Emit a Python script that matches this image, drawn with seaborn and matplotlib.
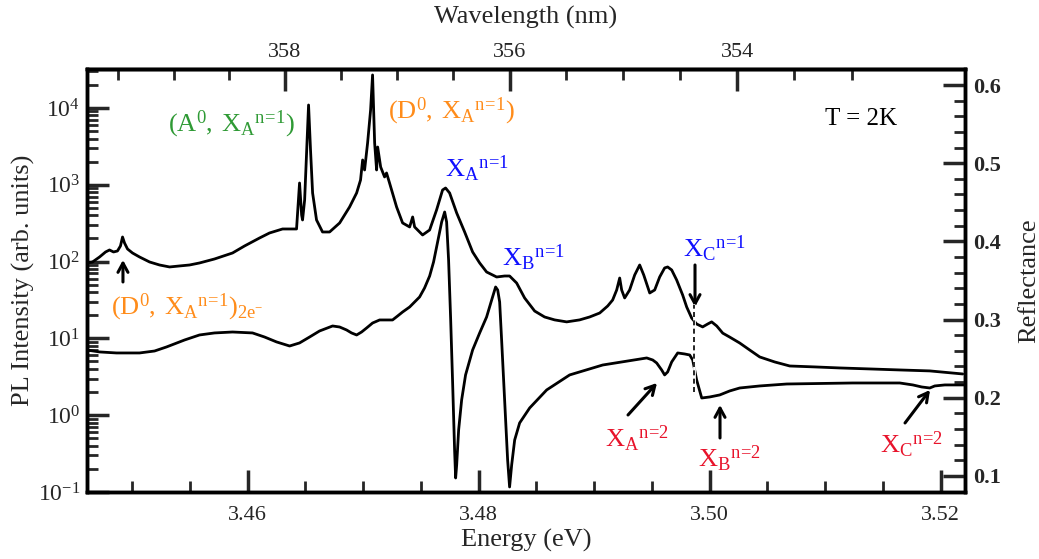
import numpy as np
import pandas as pd
import matplotlib
matplotlib.use("Agg")
import matplotlib.pyplot as plt
from matplotlib.ticker import MultipleLocator, LogLocator, NullFormatter, FixedLocator
import seaborn as sns

# ---------------- data ----------------
pl_energy = [3.44606, 3.44658, 3.44719, 3.44771, 3.44805, 3.44840, 3.44874, 3.44900, 3.44918, 3.44935,
             3.44961, 3.45004, 3.45065, 3.45152, 3.45238, 3.45325, 3.45411, 3.45498, 3.45584, 3.45714,
             3.45870, 3.45974, 3.46104, 3.46190, 3.46303, 3.46424, 3.46450, 3.46468, 3.46476, 3.46494,
             3.46528, 3.46545, 3.46563, 3.46597, 3.46649, 3.46710, 3.46797, 3.46883, 3.46944, 3.46978,
             3.46996, 3.47013, 3.47039, 3.47065, 3.47082, 3.47100, 3.47117, 3.47126, 3.47152, 3.47186,
             3.47203, 3.47229, 3.47290, 3.47342, 3.47403, 3.47429, 3.47446, 3.47515, 3.47576, 3.47636,
             3.47688, 3.47714, 3.47749, 3.47810, 3.47879, 3.47948, 3.48009, 3.48069, 3.48156, 3.48225,
             3.48268, 3.48329, 3.48398, 3.48485, 3.48571, 3.48658, 3.48762, 3.48874, 3.48961, 3.49048,
             3.49117, 3.49160, 3.49195, 3.49221, 3.49238, 3.49264, 3.49307, 3.49351, 3.49394, 3.49429,
             3.49481, 3.49524, 3.49567, 3.49610, 3.49636, 3.49671, 3.49714, 3.49766, 3.49801, 3.49844,
             3.49887, 3.49939, 3.49983, 3.50017, 3.50061, 3.50113, 3.50173, 3.50260, 3.50346, 3.50433,
             3.50563, 3.50693, 3.50909, 3.51126, 3.51385, 3.51645, 3.51905, 3.52190]
pl_intensity = [95.9, 98.8, 114.8, 133.4, 141.6, 133.4, 137.4, 159.7, 209, 174.6,
                145.9, 129.4, 114.8, 98.8, 90.3, 85.1, 87.7, 90.3, 95.9, 108.1,
                129.4, 159.7, 202.9, 235.7, 265.8, 265.8, 1055, 404.5, 348.2, 634,
                10940, 2839, 782, 348.2, 242.9, 242.9, 318.4, 514, 782, 1155,
                2103, 1559, 3502, 9418, 26920, 3502, 1559, 3103, 1706, 1264,
                1425, 1055, 514, 318.4, 282.3, 381, 282.3, 222, 257.9, 470,
                855.6, 908, 782, 429.5, 242.9, 133.4, 95.9, 73.2, 63.0, 64.9,
                64.9, 52.6, 33.6, 22.7, 19.0, 17.4, 16.4, 17.4, 19.0, 21.4,
                26.4, 31.6, 42.7, 61.1, 42.7, 33.6, 42.7, 67.0, 90.3, 67.0,
                39.0, 42.7, 63.0, 82.6, 85.1, 77.8, 57.6, 36.7, 25.6, 18.4,
                15.4, 14.1, 15.4, 16.4, 14.5, 11.7, 10.4, 8.70, 7.06, 5.73,
                4.93, 4.37, 4.25, 4.12, 4.00, 3.88, 3.77, 3.44]

refl_energy = [3.44606, 3.44719, 3.44866, 3.45065, 3.45195, 3.45299, 3.45455, 3.45584, 3.45714, 3.45870,
               3.46043, 3.46147, 3.46251, 3.46364, 3.46450, 3.46537, 3.46623, 3.46736, 3.46797, 3.46857,
               3.46900, 3.46944, 3.46987, 3.47030, 3.47082, 3.47143, 3.47255, 3.47299, 3.47342, 3.47403,
               3.47489, 3.47532, 3.47576, 3.47610, 3.47645, 3.47680, 3.47706, 3.47723, 3.47740, 3.47758,
               3.47775, 3.47792, 3.47801, 3.47810, 3.47827, 3.47853, 3.47887, 3.47948, 3.48009, 3.48069,
               3.48113, 3.48147, 3.48165, 3.48182, 3.48199, 3.48225, 3.48251, 3.48268, 3.48286, 3.48312,
               3.48355, 3.48442, 3.48589, 3.48788, 3.49074, 3.49455, 3.49507, 3.49541, 3.49584, 3.49610,
               3.49636, 3.49671, 3.49723, 3.49784, 3.49827, 3.49853, 3.49887, 3.49931, 3.50000, 3.50087,
               3.50173, 3.50260, 3.50433, 3.50667, 3.51238, 3.51645, 3.51758, 3.51835, 3.51905, 3.51948,
               3.52035, 3.52208]
reflectance = [0.2611, 0.2586, 0.2573, 0.2573, 0.2598, 0.2650, 0.2739, 0.2803, 0.2829, 0.2841,
               0.2829, 0.2777, 0.2714, 0.2662, 0.2701, 0.2777, 0.2854, 0.2918, 0.2905, 0.2867,
               0.2829, 0.2803, 0.2841, 0.2892, 0.2956, 0.2995, 0.2995, 0.3046, 0.3097, 0.3161,
               0.3289, 0.3404, 0.3557, 0.3737, 0.3992, 0.4248, 0.4376, 0.4248, 0.3762, 0.3000,
               0.2189, 0.1332, 0.0974, 0.1141, 0.1588, 0.1972, 0.2292, 0.2611, 0.2829, 0.3033,
               0.3251, 0.3417, 0.3378, 0.3225, 0.2739, 0.1972, 0.1205, 0.0859, 0.1141, 0.1460,
               0.1678, 0.1870, 0.2100, 0.2292, 0.2419, 0.2509, 0.2483, 0.2445, 0.2356, 0.2292,
               0.2330, 0.2458, 0.2573, 0.2560, 0.2547, 0.2483, 0.2228, 0.1997, 0.2010, 0.2036,
               0.2087, 0.2125, 0.2151, 0.2176, 0.2189, 0.2189, 0.2164, 0.2138, 0.2125, 0.2151,
               0.2164, 0.2164]

wavelength_ticks = [358, 356, 354]
energy_ticks = [3.46, 3.48, 3.50, 3.52]
refl_ticks = [0.1, 0.2, 0.3, 0.4, 0.5, 0.6]
HC = 1239.84  # eV nm

# ---------------- style ----------------
sns.set_theme(style="ticks")
plt.rcParams['font.family'] = ['Liberation Serif', 'DejaVu Serif']
plt.rcParams['mathtext.fontset'] = 'custom'
plt.rcParams['mathtext.rm'] = 'Liberation Serif'
plt.rcParams['mathtext.it'] = 'Liberation Serif:italic'
plt.rcParams['mathtext.bf'] = 'Liberation Serif:bold'

GREEN = '#2f9a35'
ORANGE = '#ff8c1a'
BLUE = '#1010ff'
RED = '#e8132b'

fig = plt.figure(figsize=(10.39, 5.59), dpi=100)
ax = fig.add_axes([0.0837, 0.1199, 0.8451, 0.7567])
ax2 = ax.twinx()

pl_df = pd.DataFrame({'Energy': pl_energy, 'PL': pl_intensity})
rf_df = pd.DataFrame({'Energy': refl_energy, 'R': reflectance})

sns.lineplot(data=pl_df, x='Energy', y='PL', ax=ax, color='black', lw=2.0,
             estimator=None, sort=False)
sns.lineplot(data=rf_df, x='Energy', y='R', ax=ax2, color='black', lw=2.0,
             estimator=None, sort=False)

ax.set_yscale('log')
ax.set_xlim(3.4461, 3.5221)
ax.set_ylim(0.1, 3.22e4)
ax2.set_ylim(0.0795, 0.6205)

# ticks
ax.set_xticks(energy_ticks)
ax.set_xticklabels([f"{v:.2f}" for v in energy_ticks])
ax.xaxis.set_minor_locator(MultipleLocator(0.005))
ax.yaxis.set_major_locator(LogLocator(base=10, numticks=10))
ax.yaxis.set_minor_locator(LogLocator(base=10, subs=np.arange(2, 10), numticks=20))
ax.yaxis.set_minor_formatter(NullFormatter())
ax2.set_yticks(refl_ticks)
ax2.set_yticklabels([f"{v:.1f}" for v in refl_ticks])
ax2.yaxis.set_minor_locator(MultipleLocator(0.02))

ax.tick_params(axis='both', which='major', direction='in', length=16, width=2.5,
               labelsize=16, top=False, right=False)
ax.tick_params(axis='both', which='minor', direction='in', length=8, width=2.0,
               top=False, right=False)
ax.tick_params(axis='y', which='major', labelsize=17, pad=5)
ax.tick_params(axis='x', pad=10)
ax2.tick_params(axis='y', which='major', direction='in', length=16, width=2.5, labelsize=16, pad=6)
ax2.tick_params(axis='y', which='minor', direction='in', length=8, width=2.0)
for lab in ax2.get_yticklabels():
    lab.set_fontweight('bold')

secax = ax.secondary_xaxis('top', functions=(lambda e: HC / np.asarray(e, dtype=float),
                                             lambda l: HC / np.asarray(l, dtype=float)))
secax.xaxis.set_major_locator(FixedLocator(wavelength_ticks))
secax.xaxis.set_minor_locator(FixedLocator(np.arange(353.0, 360.0, 0.5)))
secax.tick_params(which='major', direction='in', length=16, width=2.5, labelsize=16, pad=5)
secax.tick_params(which='minor', direction='in', length=8, width=2.0)
secax.set_xlabel('Wavelength (nm)', fontsize=19, labelpad=14)

for a in (ax, ax2):
    for s in a.spines.values():
        s.set_linewidth(2.5)
        s.set_color('black')
secax.spines['top'].set_linewidth(2.5)

ax.set_xlabel('Energy (eV)', fontsize=19, labelpad=3)
ax.set_ylabel('PL Intensity (arb. units)', fontsize=19, labelpad=2)
ax2.set_ylabel('Reflectance', fontsize=19, labelpad=12)

# dashed marker line at X_C n=1
ax2.plot([3.4986, 3.4986], [0.207, 0.319], color='white', lw=2.0, zorder=5)
ax2.plot([3.4986, 3.4986], [0.207, 0.319], color='black', lw=1.2, ls=(0, (3, 2)), zorder=6)

# ---------------- labels ----------------
T = ax.transAxes
def fx(px):
    return (px - 87) / 878.0
def fy(py):
    return (492 - py) / 423.0

lab_fs = 19
N1 = r'{}^{n\!=\!1}'
N2 = r'{}^{n\!=\!2}'
ax.text(fx(168), fy(131), r'$\mathrm{(A^0,\;X_A' + N1 + ')}$', transform=T, color=GREEN,
        fontsize=lab_fs, va='baseline', ha='left')
ax.text(fx(388), fy(118), r'$\mathrm{(D^0,\;X_A' + N1 + ')}$', transform=T, color=ORANGE,
        fontsize=lab_fs, va='baseline', ha='left')
ax.text(fx(111), fy(315), r'$\mathrm{(D^0,\;X_A' + N1 + r')_{2e^{-}}}$', transform=T, color=ORANGE,
        fontsize=lab_fs, va='baseline', ha='left')
ax.text(fx(445), fy(177), r'$\mathrm{X_A' + N1 + '}$', transform=T, color=BLUE,
        fontsize=lab_fs, va='baseline', ha='left')
ax.text(fx(502), fy(266), r'$\mathrm{X_B' + N1 + '}$', transform=T, color=BLUE,
        fontsize=lab_fs, va='baseline', ha='left')
ax.text(fx(683), fy(257), r'$\mathrm{X_C' + N1 + '}$', transform=T, color=BLUE,
        fontsize=lab_fs, va='baseline', ha='left')
ax.text(fx(605), fy(447), r'$\mathrm{X_A' + N2 + '}$', transform=T, color=RED,
        fontsize=lab_fs, va='baseline', ha='left')
ax.text(fx(698), fy(467), r'$\mathrm{X_B' + N2 + '}$', transform=T, color=RED,
        fontsize=lab_fs, va='baseline', ha='left')
ax.text(fx(880), fy(453), r'$\mathrm{X_C' + N2 + '}$', transform=T, color=RED,
        fontsize=lab_fs, va='baseline', ha='left')
ax.text(fx(825), fy(125), 'T = 2K', transform=T, color='black',
        fontsize=18, va='baseline', ha='left')

arrow_kw = dict(arrowstyle='->,head_length=0.55,head_width=0.3', lw=2.2, color='black',
                shrinkA=0, shrinkB=0)
arrows = [((123, 282), (123, 260)),
          ((695, 265), (695, 307)),
          ((628, 415), (657, 383)),
          ((720, 438), (720, 405)),
          ((905, 423), (930, 390))]
for (tx, ty), (hx, hy) in arrows:
    ax.annotate('', xy=(fx(hx), fy(hy)), xytext=(fx(tx), fy(ty)), xycoords=T,
                textcoords=T, arrowprops=arrow_kw, zorder=7)

fig.savefig('out.png', dpi=100)
